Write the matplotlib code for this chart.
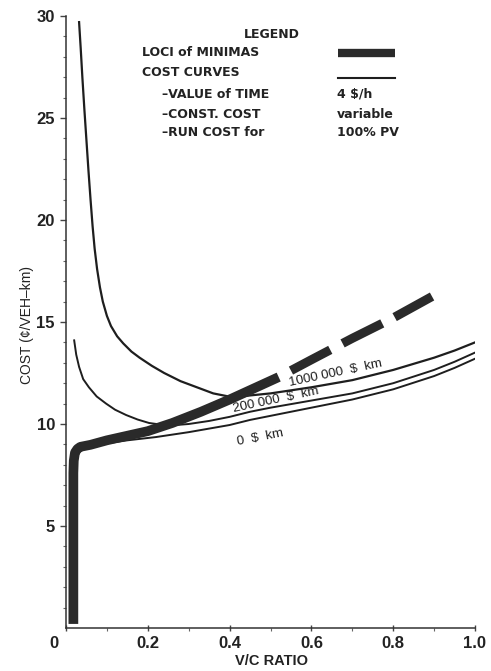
import numpy as np
import matplotlib
matplotlib.use('Agg')
import matplotlib.pyplot as plt
import matplotlib.transforms as mtransforms

plt.rcParams['font.family'] = ['Liberation Sans', 'DejaVu Sans']
plt.rcParams['lines.scale_dashes'] = False

# cost curves (cents per vehicle-km) vs V/C ratio, value of time 4 $/h
x_1000k = [0.032, 0.036, 0.040, 0.045, 0.050, 0.055, 0.060, 0.065, 0.070, 0.076, 0.083, 0.090,
           0.100, 0.110, 0.125, 0.14, 0.16, 0.18, 0.21, 0.24, 0.28, 0.32, 0.36, 0.41, 0.45,
           0.50, 0.55, 0.60, 0.70, 0.80, 0.90, 0.95, 1.0]
y_1000k = [29.7, 28.4, 27.0, 25.4, 23.9, 22.4, 21.0, 19.7, 18.6, 17.6, 16.7, 16.0,
           15.3, 14.8, 14.3, 13.95, 13.55, 13.25, 12.85, 12.5, 12.1, 11.8, 11.5, 11.3, 11.4,
           11.5, 11.65, 11.8, 12.15, 12.65, 13.25, 13.6, 14.0]

x_200k = [0.02, 0.025, 0.032, 0.042, 0.056, 0.075, 0.098, 0.12, 0.147, 0.175, 0.203, 0.25,
          0.30, 0.35, 0.40, 0.45, 0.50, 0.60, 0.70, 0.80, 0.90, 0.95, 1.0]
y_200k = [14.1, 13.4, 12.8, 12.2, 11.8, 11.35, 11.0, 10.7, 10.44, 10.22, 10.05, 9.92,
          10.0, 10.15, 10.35, 10.6, 10.8, 11.15, 11.5, 12.0, 12.65, 13.05, 13.5]

x_0k = [0.05, 0.10, 0.15, 0.22, 0.30, 0.40, 0.45, 0.50, 0.60, 0.70, 0.80, 0.90, 0.95, 1.0]
y_0k = [8.95, 9.05, 9.2, 9.36, 9.6, 9.95, 10.2, 10.4, 10.8, 11.2, 11.7, 12.35, 12.75, 13.2]

# loci of minima: solid part, then extrapolated (dashed) part
x_loci = [0.018, 0.018, 0.019, 0.022, 0.028, 0.035, 0.06, 0.10, 0.20, 0.26, 0.33, 0.40, 0.46, 0.52]
y_loci = [0.2, 7.6, 8.2, 8.6, 8.78, 8.88, 8.98, 9.2, 9.65, 10.05, 10.6, 11.2, 11.75, 12.3]
x_loci_ext = [0.52, 0.60, 0.70, 0.80, 0.895]
y_loci_ext = [12.3, 13.15, 14.2, 15.2, 16.25]

curve_labels = ['1000 000  $  km', '200 000  $  km', '0  $  km']

ink = '#1e1e1e'
loci_col = '#2a2a2a'

fig = plt.figure(figsize=(4.91, 6.71), dpi=100)
ax = fig.add_axes([66/491, 1 - 628/671, 409/491, 612/671])

ax.plot(x_1000k, y_1000k, color=ink, lw=1.6, solid_joinstyle='round', zorder=2)
ax.plot(x_200k, y_200k, color=ink, lw=1.4, solid_joinstyle='round', zorder=2)
ax.plot(x_0k, y_0k, color=ink, lw=1.4, solid_joinstyle='round', zorder=2)

ax.plot(x_loci, y_loci, color=loci_col, lw=7, solid_joinstyle='round',
        solid_capstyle='butt', zorder=3)
ax.plot(x_loci_ext, y_loci_ext, color=loci_col, lw=6.5, dash_capstyle='butt',
        linestyle=(32, (32, 10)), zorder=3)

# labels along the curves
lab_kw = dict(fontsize=9.5, color=ink, rotation_mode='anchor', ha='left', va='baseline')
ax.text(0.548, 11.85, curve_labels[0], rotation=12, **lab_kw)
ax.text(0.41, 10.6, curve_labels[1], rotation=12, **lab_kw)
ax.text(0.42, 8.95, curve_labels[2], rotation=11, **lab_kw)

ax.set_xlim(0, 1.0)
ax.set_ylim(0, 30)
ax.spines['top'].set_visible(False)
ax.spines['right'].set_visible(False)
for s in ('left', 'bottom'):
    ax.spines[s].set_linewidth(1.1)
    ax.spines[s].set_color('#333333')

ax.set_xticks([0, 0.2, 0.4, 0.6, 0.8, 1.0])
ax.set_xticklabels(['0', '0.2', '0.4', '0.6', '0.8', '1.0'])
ax.set_xticks(np.arange(0.1, 1.0, 0.2), minor=True)
ax.set_yticks([5, 10, 15, 20, 25, 30])
ax.set_yticks(np.arange(1, 30, 1), minor=True)
ax.tick_params(axis='both', which='major', length=4, width=1, color='#444444',
               labelsize=12, pad=4)
ax.tick_params(axis='x', which='major', direction='inout', length=5, pad=3)
ax.tick_params(axis='both', which='minor', length=2, width=0.8, color='#666666')
for lab in ax.get_xticklabels() + ax.get_yticklabels():
    lab.set_fontweight('bold')
    lab.set_color('#222222')
# origin label sits left of the corner
first = ax.get_xticklabels()[0]
first.set_transform(first.get_transform() +
                    mtransforms.ScaledTranslation(-12/100, 0, fig.dpi_scale_trans))

ax.set_xlabel('V/C RATIO', fontsize=10.5, fontweight='bold', color='#222222')
ax.xaxis.set_label_coords(0.502, -0.042)
ax.set_ylabel('COST (¢/VEH–km)', fontsize=10, color='#222222')
ax.yaxis.set_label_coords(-0.078, 0.495)

# legend block
leg_kw = dict(transform=fig.transFigure, fontsize=9, fontweight='bold',
              color='#222222', va='center', family='DejaVu Sans')
def fx(px):
    return px / 491
def fy(py):
    return 1 - py / 671

fig.text(fx(272), fy(34), 'LEGEND', ha='center', **leg_kw)
fig.text(fx(142), fy(53), 'LOCI of MINIMAS', ha='left', **leg_kw)
fig.text(fx(142), fy(73), 'COST CURVES', ha='left', **leg_kw)
fig.text(fx(162), fy(94), '–VALUE of TIME', ha='left', **leg_kw)
fig.text(fx(162), fy(114), '–CONST. COST', ha='left', **leg_kw)
fig.text(fx(162), fy(133), '–RUN COST for', ha='left', **leg_kw)
fig.text(fx(337), fy(94), '4 $/h', ha='left', **leg_kw)
fig.text(fx(337), fy(114), 'variable', ha='left', **leg_kw)
fig.text(fx(337), fy(133), '100% PV', ha='left', **leg_kw)
fig.add_artist(plt.Line2D([fx(338), fx(395)], [fy(53), fy(53)], transform=fig.transFigure,
                          color=loci_col, lw=6, solid_capstyle='butt'))
fig.add_artist(plt.Line2D([fx(338), fx(395)], [fy(78), fy(78)], transform=fig.transFigure,
                          color=ink, lw=1.5))

fig.savefig('out.png', dpi=100)
